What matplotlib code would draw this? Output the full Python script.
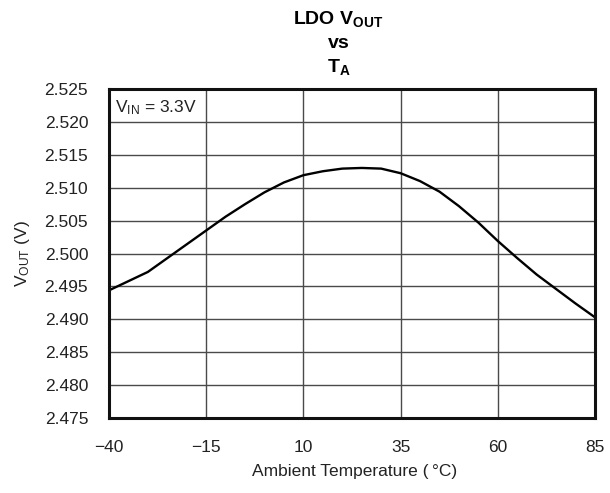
import matplotlib.pyplot as plt

plt.rcParams['font.family'] = ['Liberation Sans', 'DejaVu Sans']
plt.rcParams['mathtext.fontset'] = 'custom'
plt.rcParams['mathtext.rm'] = 'Liberation Sans'
plt.rcParams['mathtext.it'] = 'Liberation Sans'
plt.rcParams['mathtext.bf'] = 'Liberation Sans:bold'

# temperatura ambiente (C) y tension de salida del LDO (V)
temp = [-40, -35, -30, -25, -20, -15, -10, -5, 0, 5, 10, 15, 20, 25,
        30, 35, 40, 45, 50, 55, 60, 65, 70, 75, 80, 85]
vout = [2.4944, 2.4958, 2.4972, 2.4993, 2.5014, 2.5035, 2.5056, 2.5075,
        2.5093, 2.5108, 2.5119, 2.5125, 2.5129, 2.5130, 2.5129, 2.5122,
        2.5110, 2.5094, 2.5072, 2.5047, 2.5019, 2.4993, 2.4968, 2.4946,
        2.4924, 2.4903]

x_ticks = [-40, -15, 10, 35, 60, 85]
y_ticks = [2.475, 2.480, 2.485, 2.490, 2.495, 2.500, 2.505, 2.510,
           2.515, 2.520, 2.525]


def main():
    fig = plt.figure(figsize=(6.1, 4.93), dpi=100)
    ax = fig.add_axes([0.1787, 0.1521, 0.7967, 0.6674])

    ax.plot(temp, vout, color='black', lw=1.7)

    ax.set_xlim(-40, 85)
    ax.set_ylim(2.475, 2.525)
    ax.set_xticks(x_ticks)
    ax.set_xticklabels([f'{t}'.replace('-', '\u2212') for t in x_ticks])
    ax.set_yticks(y_ticks)
    ax.set_yticklabels([f'{v:.3f}' for v in y_ticks])
    ax.tick_params(axis='y', length=0, labelsize=12.5, pad=15, colors='#222222')
    ax.tick_params(axis='x', length=0, labelsize=12.5, pad=16, colors='#222222')
    ax.grid(True, color='#4a4a4a', lw=1.0)
    for s in ax.spines.values():
        s.set_linewidth(2.2)
        s.set_color('#111111')

    ax.set_xlabel('Ambient Temperature (\u2009°C)', fontsize=12.5, color='#222222')
    ax.xaxis.set_label_coords(0.505, -0.14)
    ax.set_ylabel(r'V$_{\mathrm{OUT}}$ (V)', fontsize=12.5, color='#222222')
    ax.yaxis.set_label_coords(-0.158, 0.5)

    ax.text(0.013, 0.93, r'V$_{\mathrm{IN}}$ = 3.3V', transform=ax.transAxes,
            fontsize=12.5, va='baseline', ha='left', color='#222222')

    fig.text(0.555, 1 - 24 / 493, r'$\mathbf{LDO\ V_{OUT}}$', ha='center',
             va='baseline', fontsize=14)
    fig.text(0.555, 1 - 48 / 493, 'vs', ha='center', va='baseline',
             fontsize=14, fontweight='bold')
    fig.text(0.555, 1 - 72 / 493, r'$\mathbf{T_{A}}$', ha='center',
             va='baseline', fontsize=14)

    fig.savefig('out.png', dpi=100)


if __name__ == '__main__':
    main()
